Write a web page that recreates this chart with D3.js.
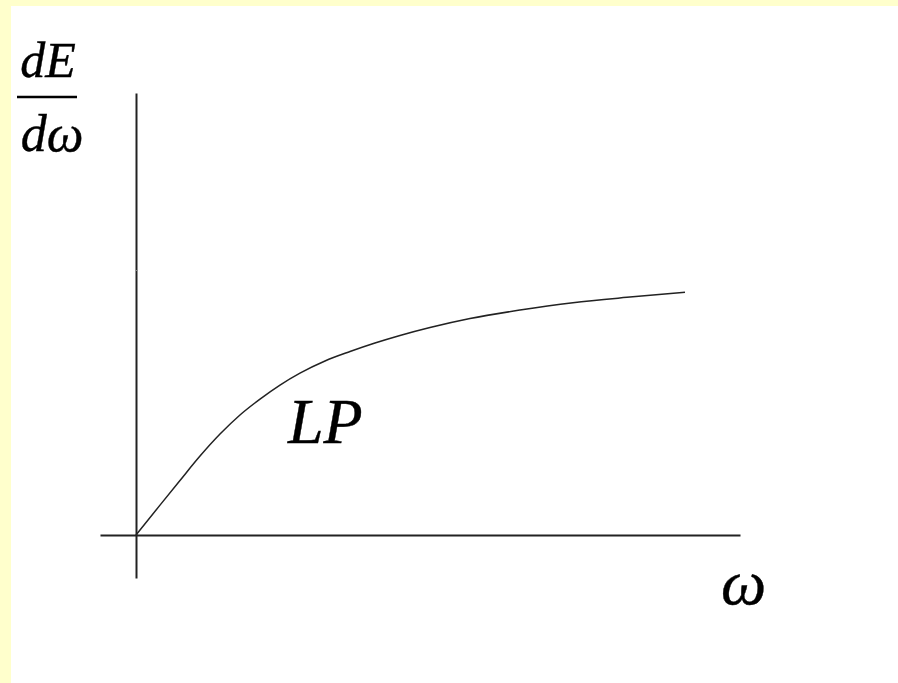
<!DOCTYPE html>
<html>
<head>
<meta charset="utf-8">
<script src="https://cdn.jsdelivr.net/npm/d3@7"></script>
<style>
  html, body { margin: 0; padding: 0; background: #ffffcc; }
  svg { display: block; }
</style>
</head>
<body>
<script>
// Spectral energy curve dE/dω of the LP (linear-polarised) regime
const omega = [0, 4.0, 7.33, 10.67, 14.0, 17.33, 20.67, 24.0, 27.33, 31.5, 35.67, 39.83, 44.0, 49.0, 55.67, 64.0, 72.83, 81.83, 91.5];
const energy = [0, 11.3, 20.6, 29.8, 38.1, 45.3, 51.3, 56.6, 61.1, 65.7, 69.25, 72.45, 75.3, 78.3, 81.7, 84.9, 87.66, 89.7, 91.6];
const curveLabel = "LP";
const xLabel = "ω";
const yLabelTop = "dE";
const yLabelBottom = "dω";
const yTicks = [100];

const W = 898, H = 683;
const serif = "'Liberation Serif', 'Times New Roman', Times, serif";
const svg = d3.select("body").append("svg").attr("width", W).attr("height", H);

// white page area inside the pale yellow frame
svg.append("rect").attr("x", 11).attr("y", 6).attr("width", W - 11).attr("height", H - 6).attr("fill", "#ffffff");

const x = d3.scaleLinear().domain([-6, 100.67]).range([100, 740]);
const y = d3.scaleLinear().domain([-16.2, 166.8]).range([578, 93]);

// horizontal axis through the origin
svg.append("g")
  .attr("transform", `translate(0,${y(0)})`)
  .call(d3.axisBottom(x).tickValues([]).tickSizeOuter(0))
  .call(g => g.select(".domain").attr("stroke", "#222").attr("stroke-width", 2));

// vertical axis through the origin
svg.append("g")
  .attr("transform", `translate(${x(0)},0)`)
  .call(d3.axisRight(y).tickValues(yTicks).tickSize(2).tickSizeOuter(0).tickFormat(""))
  .call(g => g.select(".domain").attr("stroke", "#222").attr("stroke-width", 2))
  .call(g => g.selectAll(".tick line").attr("stroke", "#888").attr("stroke-width", 1));

// the curve
const line = d3.line().x((d, i) => x(omega[i])).y(d => y(d)).curve(d3.curveMonotoneX);
svg.append("path")
  .datum(energy)
  .attr("d", line)
  .attr("fill", "none")
  .attr("stroke", "#222")
  .attr("stroke-width", 1.5);

// labels
function label(tx, ty, size, str, anchor) {
  svg.append("text")
    .attr("x", tx).attr("y", ty)
    .attr("font-family", serif)
    .attr("font-style", "italic")
    .attr("font-size", size)
    .attr("text-anchor", anchor || "start")
    .attr("fill", "#000")
    .attr("stroke", "#000")
    .attr("stroke-width", 0.4)
    .text(str);
}
label(288, 443, 64, curveLabel);
label(721, 604, 64, xLabel);
label(48, 77, 50, yLabelTop, "middle");
svg.append("line").attr("x1", 17).attr("x2", 77).attr("y1", 97).attr("y2", 97).attr("stroke", "#000").attr("stroke-width", 2.5);
label(52, 151, 52, yLabelBottom, "middle");
</script>
</body>
</html>
